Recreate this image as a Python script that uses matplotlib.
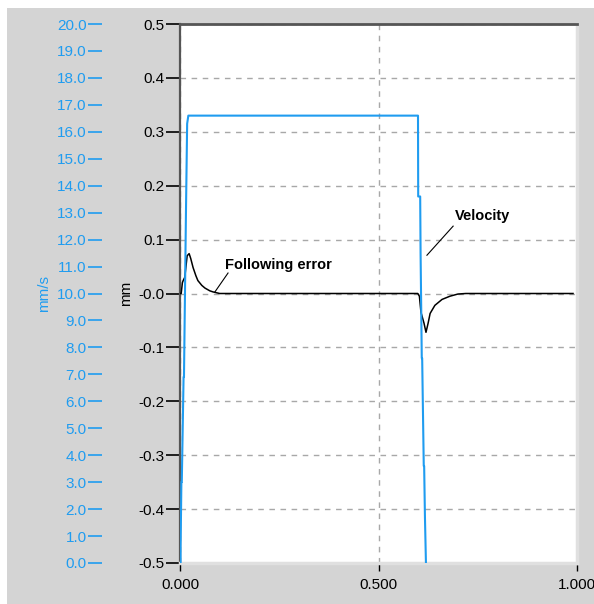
import matplotlib as mpl
import matplotlib.pyplot as plt
from matplotlib.patches import Rectangle

# following error (mm) vs time
err_t = [0.0, 0.003, 0.006, 0.008, 0.012, 0.018, 0.023, 0.027, 0.033, 0.040, 0.045,
         0.055, 0.063, 0.075, 0.083, 0.100, 0.599, 0.603, 0.607, 0.6146, 0.6196,
         0.625, 0.630, 0.642, 0.660, 0.680, 0.700, 0.720, 0.990]
err_mm = [0.0, 0.0, 0.020, 0.024, 0.030, 0.070, 0.074, 0.065, 0.048, 0.033, 0.024,
          0.015, 0.010, 0.005, 0.003, 0.0, 0.0, -0.005, -0.035, -0.055, -0.072,
          -0.055, -0.037, -0.022, -0.011, -0.005, -0.001, 0.0, 0.0]

# velocity (mm/s) vs time
vel_t = [0.0015, 0.0015, 0.0035, 0.0045, 0.009, 0.010, 0.015, 0.018, 0.021,
         0.300, 0.5995, 0.600, 0.605, 0.606, 0.609, 0.610, 0.614, 0.615, 0.617, 0.6195]
vel_v = [0.0, 0.6, 3.0, 3.0, 6.9, 6.9, 13.0, 16.3, 16.6,
         16.6, 16.6, 13.6, 13.6, 11.5, 7.6, 7.6, 3.6, 3.6, 1.7, 0.0]

mm_ticks = [0.5, 0.4, 0.3, 0.2, 0.1, 0.0, -0.1, -0.2, -0.3, -0.4, -0.5]
mm_labels = ['0.5', '0.4', '0.3', '0.2', '0.1', '-0.0', '-0.1', '-0.2', '-0.3', '-0.4', '-0.5']
vel_ticks = [float(v) for v in range(0, 21)]
x_ticks = [0.0, 0.5, 1.0]
x_labels = ['0.000', '0.500', '1.000']

BLUE = '#1f9cf0'
BG = '#d4d4d4'

plt.rcParams['font.family'] = ['Liberation Sans', 'DejaVu Sans']
plt.rcParams['font.size'] = 11

fig = plt.figure(figsize=(5.94, 6.04), dpi=100, facecolor='white')
fig.patches.append(Rectangle((7 / 594, 0), 1, 596 / 604, transform=fig.transFigure,
                             facecolor=BG, edgecolor='none', zorder=-10))

ax = fig.add_axes([180 / 594, 1 - 563 / 604, 397 / 594, 539 / 604])
ax.set_facecolor('white')
ax.plot(err_t, err_mm, color='black', lw=1.1, zorder=3)
ax.set_xlim(0, 1)
ax.set_ylim(-0.5, 0.5)
ax.set_yticks(mm_ticks)
ax.set_yticklabels(mm_labels)
ax.set_xticks(x_ticks)
ax.set_xticklabels(x_labels)
ax.grid(True, color='#a8a8a8', linestyle=(0, (4, 4)), lw=1)
ax.tick_params(axis='y', direction='out', length=10, width=1.2, pad=1, colors='black')
ax.tick_params(axis='x', direction='out', length=6, width=1, pad=5, colors='black')
ax.set_ylabel('mm', color='black', labelpad=4)
ax.spines['left'].set_color('#555555')
ax.spines['left'].set_linewidth(1.6)
ax.spines['top'].set_color('#555555')
ax.spines['top'].set_linewidth(2)
ax.spines['right'].set_color('#e0e0e0')
ax.spines['right'].set_linewidth(2.5)
ax.spines['bottom'].set_color('#e0e0e0')
ax.spines['bottom'].set_linewidth(2.5)

ax2 = ax.twinx()
ax2.plot(vel_t, vel_v, color=BLUE, lw=1.5, zorder=2)
ax2.set_ylim(0, 20)
ax2.set_yticks(vel_ticks)
ax2.set_yticklabels(['%.1f' % v for v in vel_ticks])
ax2.yaxis.set_ticks_position('left')
ax2.yaxis.set_label_position('left')
ax2.spines['left'].set_position(('axes', -78 / 397))
ax2.spines['left'].set_visible(False)
for s in ['right', 'top', 'bottom']:
    ax2.spines[s].set_visible(False)
ax2.tick_params(axis='y', direction='out', length=10, width=1.2, pad=1,
                colors=BLUE, left=True, right=False, labelleft=True, labelright=False)
ax2.set_ylabel('mm/s', color=BLUE, labelpad=4)

# annotations
ax.plot([0.088, 0.121], [0.003, 0.038], color='black', lw=0.8, zorder=4)
ax.text(0.113, 0.053, 'Following error', fontweight='bold', fontsize=10.5,
        ha='left', va='center', zorder=5)
ax.plot([0.622, 0.688], [0.071, 0.125], color='black', lw=0.8, zorder=4)
ax.text(0.693, 0.144, 'Velocity', fontweight='bold', fontsize=10.5,
        ha='left', va='center', zorder=5)

fig.savefig('out.png', dpi=100, facecolor=fig.get_facecolor())
